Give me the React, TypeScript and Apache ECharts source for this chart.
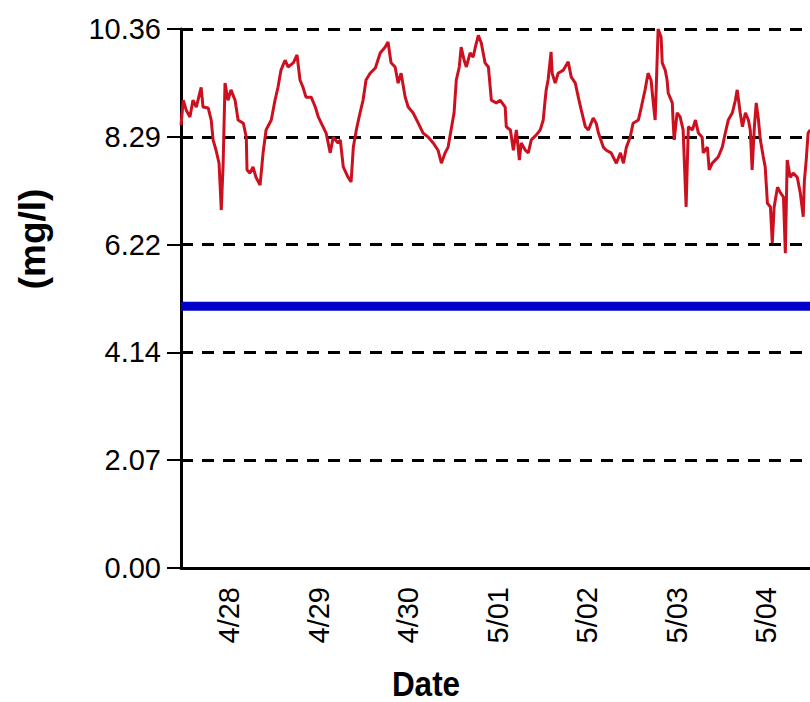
import React, { useEffect, useRef } from "react";
import * as echarts from "echarts";

// hours since 4/28 00:00
const hoursSince0428: number[] = [
  -12.9, -12.3, -11.5, -10.5, -9.7, -8.8, -7.5, -7.0, -5.6, -4.8, -4.3, -3.5, -2.7, -2.1, -1.6, -1.1, -0.3, 0.5, 1.6, 2.4,
  3.8, 4.6, 4.8, 5.6, 6.4, 7.2, 8.3, 9.1, 9.9, 11.3, 12.3, 13.1, 13.9, 15.0, 15.8, 17.2, 18.2, 19.0, 19.8, 20.6,
  22.0, 23.1, 23.9, 24.7, 26.0, 27.1, 27.9, 29.2,
  29.8, 30.6, 31.9, 32.7, 33.3, 34.1, 35.1, 35.9, 36.7, 37.8, 39.2, 40.5, 41.8, 42.6, 43.4, 44.5, 45.3, 46.1, 47.2, 48.0,
  49.3, 50.7, 52.0, 53.4, 54.7, 56.0, 56.9, 57.9, 58.7, 59.5, 60.3, 60.9, 61.7, 62.2, 63.0, 63.6, 64.6, 65.4, 66.0, 66.8,
  67.6, 68.6, 69.5, 70.3, 71.6,
  72.7, 74.0, 74.3, 75.4, 76.2, 77.0, 77.8, 78.3, 79.4, 80.2, 81.0, 82.3, 83.4, 84.2, 84.7, 85.0, 85.5, 86.3, 86.6, 87.4,
  88.2, 89.6, 90.9, 91.7, 92.8, 93.6, 94.4, 95.5, 96.3, 97.6, 98.4, 99.0, 100.3, 101.1, 102.4, 103.8, 104.9, 105.7, 106.5, 107.5,
  108.3, 109.7, 110.5, 111.5, 112.3, 113.1, 113.7, 114.2, 114.5,
  115.0, 115.8, 116.1, 116.9, 117.4, 117.7, 118.8, 119.0, 119.3, 120.1, 120.9, 121.7, 122.5, 123.1, 124.2, 125.0, 125.8, 126.8, 127.1, 128.2,
  128.7, 129.5, 130.3, 131.1, 132.2, 133.0, 133.8, 134.9, 135.7, 136.2, 137.0, 137.6, 138.4, 139.2, 139.7, 140.2, 140.8, 141.3, 141.9, 142.4,
  143.2, 143.7, 144.3, 145.1, 145.6, 146.1, 147.0, 147.8, 148.6, 149.1, 149.6, 150.4, 151.2, 152.3, 153.1, 153.9, 154.2, 154.7, 155.2, 155.8,
];

// dissolved oxygen (mg/l)
const dissolvedOxygen: number[] = [
  8.51, 8.99, 8.80, 8.67, 8.99, 8.86, 9.24, 8.86, 8.84, 8.61, 8.23, 8.03, 7.78, 6.88, 7.78, 9.32, 8.99, 9.19, 8.99, 8.61,
  8.55, 8.28, 7.65, 7.59, 7.71, 7.51, 7.36, 7.98, 8.42, 8.61, 8.99, 9.24, 9.57, 9.76, 9.63, 9.71, 9.86, 9.38, 9.24, 9.05,
  9.05, 8.86, 8.67, 8.55, 8.36, 7.98, 8.28, 8.17,
  8.23, 7.71, 7.51, 7.42, 8.09, 8.42, 8.75, 8.99, 9.38, 9.51, 9.61, 9.90, 10.01, 10.11, 9.71, 9.63, 9.32, 9.51, 9.05, 8.86,
  8.75, 8.55, 8.36, 8.28, 8.17, 8.03, 7.78, 7.98, 8.09, 8.42, 8.75, 9.38, 9.63, 10.01, 9.76, 9.63, 9.90, 9.82, 10.01, 10.24,
  10.09, 9.71, 9.63, 8.99, 8.94,
  8.99, 8.86, 8.48, 8.42, 8.03, 8.42, 7.84, 8.17, 8.03, 7.98, 8.23, 8.32, 8.42, 8.61, 8.99, 9.19, 9.38, 9.92, 9.51, 9.32,
  9.51, 9.57, 9.73, 9.44, 9.32, 9.05, 8.80, 8.48, 8.42, 8.65, 8.55, 8.36, 8.09, 8.03, 7.98, 7.78, 7.98, 7.78, 8.09, 8.28,
  8.55, 8.61, 8.86, 9.19, 9.51, 9.38, 8.94, 8.61, 9.24,
  10.36, 10.20, 9.71, 9.57, 9.38, 9.13, 8.94, 8.61, 8.23, 8.75, 8.67, 8.42, 6.94, 8.48, 8.42, 8.61, 8.36, 8.28, 7.98, 8.09,
  7.65, 7.78, 7.84, 7.90, 8.09, 8.36, 8.61, 8.75, 8.99, 9.19, 8.75, 8.48, 8.75, 8.61, 8.42, 7.65, 8.48, 8.94, 8.61, 8.23,
  7.90, 7.71, 7.01, 6.94, 6.25, 6.94, 7.32, 7.21, 7.13, 6.05, 7.84, 7.51, 7.59, 7.51, 7.21, 6.75, 7.44, 7.84, 8.36, 8.42,
];

const thresholdValue = 5.03;
const dateTickHours: number[] = [0, 24, 48, 72, 96, 120, 144];
const dateTickLabels: string[] = ["4/28", "4/29", "4/30", "5/01", "5/02", "5/03", "5/04"];
const xMin = -12.9;
const xMax = 160;
const yMax = 10.36;
const yStep = 2.072;

export default function App() {
  const ref = useRef<HTMLDivElement>(null);
  useEffect(() => {
    if (!ref.current) return;
    const chart = echarts.init(ref.current, null, { renderer: "svg" });
    const n = Math.min(hoursSince0428.length, dissolvedOxygen.length);
    const lineData: number[][] = [];
    for (let i = 0; i < n; i++) lineData.push([hoursSince0428[i], dissolvedOxygen[i]]);
    const font = "Liberation Sans, Arial, sans-serif";
    chart.setOption({
      animation: false,
      backgroundColor: "#ffffff",
      grid: { left: 181, top: 29, right: -16, bottom: 134, containLabel: false, outerBoundsMode: "none" },
      xAxis: {
        type: "value",
        min: xMin,
        max: xMax,
        axisLine: { show: true, onZero: false, lineStyle: { color: "#000", width: 3 } },
        axisTick: { show: false },
        splitLine: { show: false },
        axisLabel: {
          customValues: dateTickHours,
          rotate: 90,
          margin: 19,
          color: "#000",
          fontFamily: font,
          fontSize: 29,
          formatter: (v: number) => {
            const idx = dateTickHours.indexOf(v);
            return idx >= 0 ? dateTickLabels[idx] : "";
          },
        },
      },
      yAxis: {
        type: "value",
        min: 0,
        max: yMax,
        interval: yStep,
        axisLine: { show: true, onZero: false, lineStyle: { color: "#000", width: 3 } },
        axisTick: { show: true, length: 14, lineStyle: { color: "#000", width: 2 } },
        axisLabel: {
          margin: 20,
          color: "#000",
          fontFamily: font,
          fontSize: 29,
          formatter: (v: number) => v.toFixed(2),
        },
        splitLine: { show: true, lineStyle: { color: "#000", width: 3, type: [12, 9] } },
      },
      graphic: [
        {
          type: "text",
          x: 426,
          y: 684,
          scaleX: 0.9,
          style: {
            text: "Date",
            fill: "#000",
            font: "bold 35px Liberation Sans, Arial, sans-serif",
            textAlign: "center",
            textVerticalAlign: "middle",
          },
        },
        {
          type: "text",
          x: 32,
          y: 239,
          rotation: Math.PI / 2,
          style: {
            text: "(mg/l)",
            fill: "#000",
            font: "bold 37px Liberation Sans, Arial, sans-serif",
            textAlign: "center",
            textVerticalAlign: "middle",
          },
        },
      ],
      series: [
        {
          type: "line",
          data: [
            [xMin, thresholdValue],
            [xMax, thresholdValue],
          ],
          symbol: "none",
          silent: true,
          lineStyle: { color: "#0000c8", width: 9 },
          z: 2,
        },
        {
          type: "line",
          data: lineData,
          symbol: "none",
          silent: true,
          lineStyle: { color: "#cc1020", width: 3 },
          z: 3,
        },
      ],
    });
    return () => chart.dispose();
  }, []);
  return <div ref={ref} style={{ position: "fixed", left: 0, top: 0, width: 810, height: 702 }} />;
}
